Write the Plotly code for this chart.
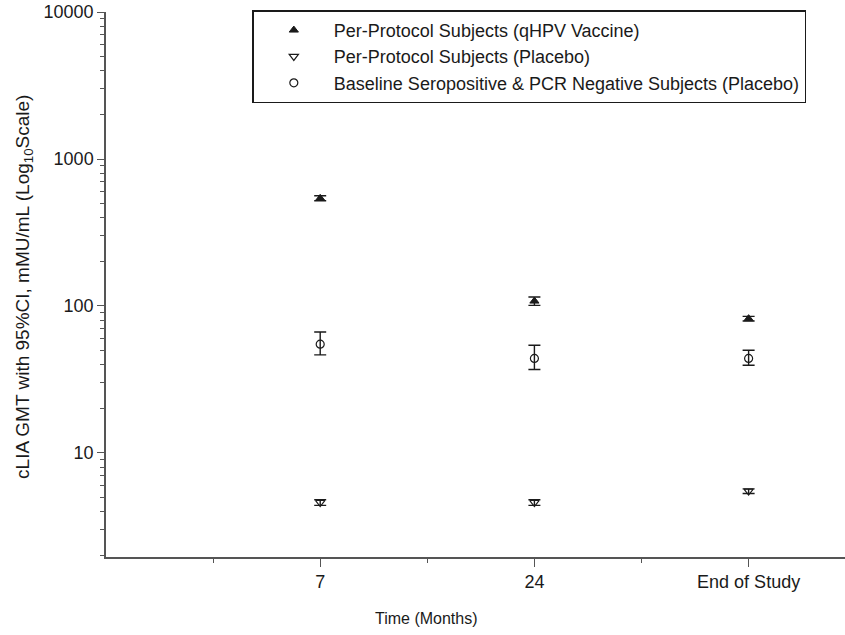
import plotly.graph_objects as go

# ---- data ----
categories = ["7", "24", "End of Study"]

vaccine_gmt = [540, 108, 82]
vaccine_lower = [520, 101, 79]
vaccine_upper = [562, 115, 85]

placebo_gmt = [4.6, 4.6, 5.5]
placebo_lower = [4.4, 4.4, 5.3]
placebo_upper = [4.8, 4.8, 5.7]

seropos_gmt = [55, 44, 44]
seropos_lower = [46.5, 37, 39.5]
seropos_upper = [66.5, 54, 50]

y_tick_vals = [10, 100, 1000, 10000]
y_tick_text = ["10", "100", "1000", "10000"]

x_pos = [i + 1 for i in range(len(categories))]

FONT = "Liberation Sans, Arial, sans-serif"
INK = "#1a1a1a"


def err(gmt, lo, hi):
    return dict(
        type="data", symmetric=False,
        array=[h - g for g, h in zip(gmt, hi)],
        arrayminus=[g - l for g, l in zip(gmt, lo)],
        color=INK, thickness=1.4, width=6,
    )


fig = go.Figure()
fig.add_trace(go.Scatter(
    x=x_pos, y=vaccine_gmt, mode="markers",
    name="Per-Protocol Subjects (qHPV Vaccine)",
    marker=dict(symbol="triangle-up", size=8, color=INK, line=dict(color=INK, width=1)),
    error_y=err(vaccine_gmt, vaccine_lower, vaccine_upper),
))
fig.add_trace(go.Scatter(
    x=x_pos, y=placebo_gmt, mode="markers",
    name="Per-Protocol Subjects (Placebo)",
    marker=dict(symbol="triangle-down-open", size=8, color=INK, line=dict(color=INK, width=1.2)),
    error_y=err(placebo_gmt, placebo_lower, placebo_upper),
))
fig.add_trace(go.Scatter(
    x=x_pos, y=seropos_gmt, mode="markers",
    name="Baseline Seropositive & PCR Negative Subjects (Placebo)",
    marker=dict(symbol="circle-open", size=8, color=INK, line=dict(color=INK, width=1.2)),
    error_y=err(seropos_gmt, seropos_lower, seropos_upper),
))

fig.update_layout(
    width=845, height=635,
    margin=dict(l=106, r=0, t=12, b=78),
    paper_bgcolor="white", plot_bgcolor="white",
    font=dict(family=FONT, size=18, color=INK),
    showlegend=True,
    legend=dict(
        x=0.198, y=1.003, xanchor="left", yanchor="top",
        bgcolor="white", bordercolor=INK, borderwidth=1.5,
        font=dict(family=FONT, size=18, color=INK),
        itemwidth=70,
        tracegroupgap=0,
    ),
    xaxis=dict(
        range=[0, 3.45], showgrid=False, zeroline=False,
        showline=True, linecolor="#555", linewidth=1.5,
        tickmode="array", tickvals=x_pos, ticktext=categories,
        ticks="outside", ticklen=8, tickcolor="#555", tickwidth=1.2,
        minor=dict(tickmode="array", tickvals=[0.5, 1.5, 2.5], ticks="outside",
                   ticklen=4, tickcolor="#555", tickwidth=1.2, showgrid=False),
        tickfont=dict(size=18, color=INK),
    ),
    yaxis=dict(
        type="log", range=[0.292, 4.0005], showgrid=False, zeroline=False,
        showline=True, linecolor="#555", linewidth=1.5,
        tickmode="array", tickvals=y_tick_vals, ticktext=y_tick_text,
        ticks="outside", ticklen=7, tickcolor="#555", tickwidth=1.2,
        minor=dict(ticks="outside", ticklen=4, tickcolor="#555", tickwidth=1.2,
                   dtick="D1", showgrid=False),
        tickfont=dict(size=18, color=INK),
    ),
    annotations=[
        dict(text="Time (Months)", xref="paper", yref="paper", x=0.434, y=-0.112,
             xanchor="center", yanchor="middle", showarrow=False,
             font=dict(family=FONT, size=16, color=INK)),
        dict(text="cLIA GMT with 95%CI, mMU/mL (Log<sub>10</sub>Scale)",
             xref="paper", yref="paper", x=-0.11, y=0.495, textangle=-90,
             xanchor="center", yanchor="middle", showarrow=False,
             font=dict(family=FONT, size=19, color=INK)),
    ],
)

fig.write_html("out.html",
               config={"displayModeBar": False},
               post_script="document.body.style.margin='0';document.body.style.overflow='hidden';")
